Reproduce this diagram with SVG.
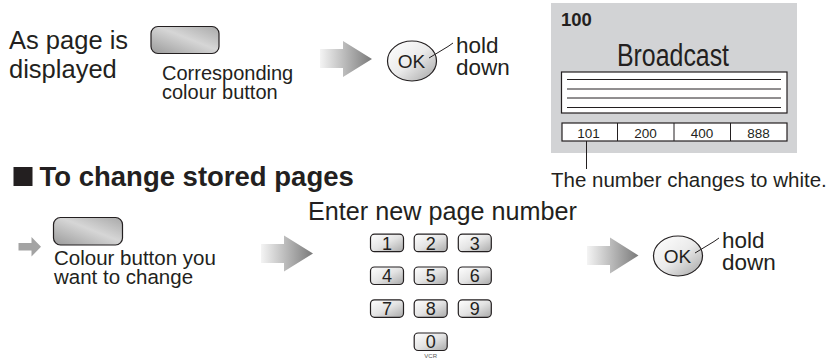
<svg xmlns="http://www.w3.org/2000/svg" width="832" height="362" viewBox="0 0 832 362">
<style>
.t{font-family:"Liberation Sans",Arial,sans-serif;fill:#231f20}
.b{font-weight:bold}
.btn{fill:url(#gBtn);stroke:#231f20;stroke-width:1.2}
.key{fill:url(#gKey);stroke:#231f20;stroke-width:1.2}
.ok{fill:url(#gOk);stroke:#231f20;stroke-width:1.2}
.big{fill:url(#gArr)}
.ln{stroke:#231f20;stroke-width:1;fill:none}
</style>
<defs>
<linearGradient id="gBtn" x1="0" y1="1" x2="1" y2="0">
<stop offset="0" stop-color="#9a9a9a"/><stop offset="0.55" stop-color="#d6d6d6"/><stop offset="1" stop-color="#a8a8a8"/>
</linearGradient>
<linearGradient id="gKey" x1="0" y1="0" x2="1" y2="1">
<stop offset="0" stop-color="#ffffff"/><stop offset="0.5" stop-color="#e4e4e4"/><stop offset="1" stop-color="#a9a9a9"/>
</linearGradient>
<linearGradient id="gOk" x1="0" y1="0" x2="1" y2="1">
<stop offset="0" stop-color="#ffffff"/><stop offset="0.5" stop-color="#ebebeb"/><stop offset="1" stop-color="#a4a4a4"/>
</linearGradient>
<linearGradient id="gArr" x1="0" y1="0" x2="1" y2="0">
<stop offset="0" stop-color="#f4f4f4"/><stop offset="1" stop-color="#7a7a7a"/>
</linearGradient>
</defs>

<g id="intro">
<text class="t" font-size="25.5"><tspan x="9" y="49">As page is</tspan><tspan x="9" y="78">displayed</tspan></text>
</g>
<g id="colour-button-1">
<rect class="btn" x="151" y="26.5" width="68" height="27" rx="7"/>
<text class="t" font-size="20"><tspan x="162" y="80">Corresponding</tspan><tspan x="162" y="99">colour button</tspan></text>
</g>
<g id="ok-button-1">
<ellipse class="ok" cx="412" cy="61" rx="24.5" ry="20"/>
<text class="t" x="411.5" y="68" font-size="19" text-anchor="middle">OK</text>
<text class="t" font-size="22.5"><tspan x="456" y="53">hold</tspan><tspan x="456" y="75">down</tspan></text>
</g>

<g id="screen">
<rect x="551" y="3" width="246" height="150" fill="#d2d3d5"/>
<text class="t b" x="561" y="26" font-size="18.5">100</text>
<text class="t" x="673" y="66" font-size="31" text-anchor="middle" textLength="112" lengthAdjust="spacingAndGlyphs">Broadcast</text>
<rect x="561.5" y="72" width="225.5" height="41" fill="#fff" stroke="#231f20" stroke-width="1.2"/>
<line class="ln" x1="567" y1="79.5" x2="781" y2="79.5"/>
<line class="ln" x1="567" y1="89" x2="781" y2="89"/>
<line class="ln" x1="567" y1="98" x2="781" y2="98"/>
<line class="ln" x1="567" y1="107.5" x2="781" y2="107.5"/>
<rect x="562" y="123" width="225" height="18" fill="#fff" stroke="#231f20" stroke-width="1.2"/>
<line class="ln" x1="617.5" y1="123" x2="617.5" y2="141"/>
<line class="ln" x1="674" y1="123" x2="674" y2="141"/>
<line class="ln" x1="730.5" y1="123" x2="730.5" y2="141"/>
<text class="t" x="588.5" y="138" font-size="13.5" text-anchor="middle">101</text>
<text class="t" x="645.5" y="138" font-size="13.5" text-anchor="middle">200</text>
<text class="t" x="702" y="138" font-size="13.5" text-anchor="middle">400</text>
<text class="t" x="758.5" y="138" font-size="13.5" text-anchor="middle">888</text>
<text class="t" x="551" y="187" font-size="20.5">The number changes to white.</text>
</g>

<g id="heading">
<rect x="13.5" y="167" width="19" height="19" fill="#231f20"/>
<text class="t b" x="39.5" y="186" font-size="27.5">To change stored pages</text>
</g>
<g id="colour-button-2">
<rect class="btn" x="53.5" y="217.5" width="69" height="27.5" rx="7"/>
<text class="t" font-size="20.5"><tspan x="54" y="265">Colour button you</tspan><tspan x="54" y="284">want to change</tspan></text>
</g>
<g id="keypad">
<text class="t" x="308" y="220" font-size="25.2">Enter new page number</text>
<g font-family="Liberation Sans,Arial,sans-serif" font-size="18" text-anchor="middle" fill="#231f20">
<rect class="key" x="370.5" y="234.2" width="33" height="17.5" rx="4"/>
<rect class="key" x="414.2" y="234.2" width="33" height="17.5" rx="4"/>
<rect class="key" x="458.3" y="234.2" width="33" height="17.5" rx="4"/>
<rect class="key" x="370.5" y="267" width="33" height="17.5" rx="4"/>
<rect class="key" x="414.2" y="267" width="33" height="17.5" rx="4"/>
<rect class="key" x="458.3" y="267" width="33" height="17.5" rx="4"/>
<rect class="key" x="370.5" y="299.8" width="33" height="17.5" rx="4"/>
<rect class="key" x="414.2" y="299.8" width="33" height="17.5" rx="4"/>
<rect class="key" x="458.3" y="299.8" width="33" height="17.5" rx="4"/>
<rect class="key" x="414.2" y="333" width="33" height="17.5" rx="4"/>
<text x="387" y="249.5">1</text><text x="430.7" y="249.5">2</text><text x="474.8" y="249.5">3</text>
<text x="387" y="282.3">4</text><text x="430.7" y="282.3">5</text><text x="474.8" y="282.3">6</text>
<text x="387" y="315.1">7</text><text x="430.7" y="315.1">8</text><text x="474.8" y="315.1">9</text>
<text x="430.7" y="348.3">0</text>
<text x="430.7" y="358" font-size="6" fill="#555">VCR</text>
</g>
</g>
<g id="ok-button-2">
<ellipse class="ok" cx="678" cy="256" rx="24.5" ry="20"/>
<text class="t" x="677.5" y="263" font-size="19" text-anchor="middle">OK</text>
<text class="t" font-size="22.5"><tspan x="722" y="248">hold</tspan><tspan x="722" y="270">down</tspan></text>
</g>

<g id="connectors">
<path class="big" d="M320,49 L343,49 L343,41 L372,59 L343,77 L343,68 L320,68 Z"/>
<path class="big" d="M261,244 L284,244 L284,235.5 L313,253.5 L284,271.5 L284,263 L261,263 Z"/>
<path class="big" d="M587,246 L610,246 L610,237.5 L638.5,255.5 L610,273.5 L610,265 L587,265 Z"/>
<path d="M18.5,243 L31.5,243 L31.5,237 L41,246.7 L31.5,256.5 L31.5,250.5 L18.5,250.5 Z" fill="#a3a3a3"/>
<polyline class="ln" points="429,58 448,46.5 453,43"/>
<polyline class="ln" points="695,253 714,241.5 719,238"/>
<line class="ln" x1="586.5" y1="141" x2="586.5" y2="169"/>
</g>
</svg>
